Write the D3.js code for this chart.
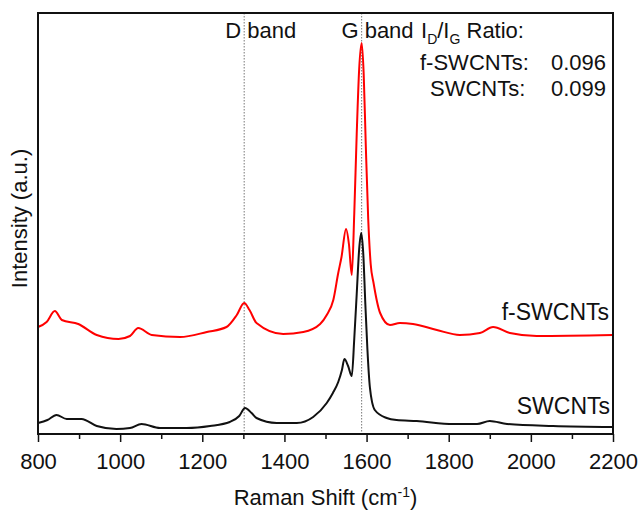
<!DOCTYPE html>
<html>
<head>
<meta charset="utf-8">
<script src="https://cdn.jsdelivr.net/npm/d3@7"></script>
<style>
  body { margin: 0; background: #fff; }
  text { font-family: "Liberation Sans", Arial, sans-serif; fill: #111; }
</style>
</head>
<body>
<div id="chart"></div>
<script>
// Raman spectra (intensity in arbitrary units)
var shiftSW = [800, 823, 845, 870, 906, 943, 991, 1024, 1052, 1097, 1162, 1219, 1267, 1290, 1304, 1320, 1332, 1381, 1430, 1470, 1503, 1518, 1531, 1540, 1546, 1555, 1564, 1570, 1576, 1582, 1587, 1592, 1597, 1602, 1608, 1620, 1649, 1673, 1722, 1811, 1869, 1900, 1942, 2054, 2200]
var intSW = [11, 14, 19, 15, 15, 8, 5, 6, 10, 6, 6, 8, 12, 18, 26, 21, 16, 11, 11, 17, 31, 41, 52, 64, 75, 68, 58, 95, 140, 185, 201, 180, 130, 85, 47, 24, 16, 14, 13, 10, 10, 13, 10, 8, 7]

var shiftF = [800, 821, 841, 858, 898, 943, 996, 1024, 1044, 1077, 1146, 1211, 1259, 1284, 1302, 1315, 1332, 1397, 1446, 1487, 1503, 1519, 1531, 1539, 1550, 1557, 1564, 1570, 1576, 1582, 1588, 1593, 1598, 1604, 1610, 1617, 1633, 1657, 1681, 1713, 1771, 1827, 1876, 1908, 1949, 2014, 2200]
var intF = [107, 112, 123, 114, 110, 99, 95, 98, 106, 99, 97, 102, 107, 119, 131, 124, 111, 100, 102, 110, 119, 134, 161, 177, 205, 190, 159, 220, 300, 365, 391, 360, 290, 215, 170, 151, 121, 109, 111, 110, 104, 99, 101, 107, 101, 98, 99]

var bandNames = ["D", "G"]
var bandPos = [1302, 1588]
var xTicks = [800, 1000, 1200, 1400, 1600, 1800, 2000, 2200]
var xMinor = [900, 1100, 1300, 1500, 1700, 1900, 2100]
var ratioNames = ["f-SWCNTs:", "SWCNTs:"]
var ratioValues = ["0.096", "0.099"]

var fs = "22px"

var margin = {top: 13, right: 27, bottom: 79, left: 38},
    width = 640 - margin.left - margin.right,
    height = 513 - margin.top - margin.bottom;

var svg = d3.select("#chart").append("svg")
  .attr("width", 640).attr("height", 513)
  .append("g")
  .attr("transform", "translate(" + margin.left + "," + margin.top + ")")

var x = d3.scaleLinear().domain([800, 2200]).range([0, width])
var y = d3.scaleLinear().domain([0, 421]).range([height, 0])

// bottom axis: major + minor ticks pointing down
svg.append("g")
  .attr("transform", "translate(0," + height + ")")
  .call(d3.axisBottom(x).tickValues(xMinor).tickSize(5).tickFormat(""))
  .call(function(g){ g.select(".domain").remove() })
  .selectAll("line").attr("stroke", "#111").attr("stroke-width", 1.5)

var xa = svg.append("g")
  .attr("transform", "translate(0," + height + ")")
  .call(d3.axisBottom(x).tickValues(xTicks).tickSize(8).tickPadding(11).tickFormat(d3.format("d")))
xa.select(".domain").remove()
xa.selectAll("line").attr("stroke", "#111").attr("stroke-width", 1.5)
xa.selectAll("text").style("font-size", fs).attr("fill", "#111")

// dotted band lines
svg.selectAll(".band-line")
  .data(bandPos)
  .join("line")
  .attr("class", "band-line")
  .attr("x1", function(d){ return x(d) }).attr("x2", function(d){ return x(d) })
  .attr("y1", 0).attr("y2", height)
  .attr("stroke", "#777").attr("stroke-width", 1)
  .attr("stroke-dasharray", "1.5,1.5")

var line = d3.line()
  .x(function(d){ return x(d[0]) })
  .y(function(d){ return y(d[1]) })
  .curve(d3.curveMonotoneX)

svg.append("path")
  .datum(d3.zip(shiftSW, intSW))
  .attr("d", line)
  .attr("fill", "none").attr("stroke", "#111").attr("stroke-width", 2)

svg.append("path")
  .datum(d3.zip(shiftF, intF))
  .attr("d", line)
  .attr("fill", "none").attr("stroke", "#f00").attr("stroke-width", 2)

// frame
svg.append("rect")
  .attr("width", width).attr("height", height)
  .attr("fill", "none").attr("stroke", "#111").attr("stroke-width", 2)

// band labels
bandNames.forEach(function(n, i){
  svg.append("text")
    .attr("x", x(bandPos[i]) - 3).attr("y", 25)
    .attr("text-anchor", "end").style("font-size", fs).text(n)
  svg.append("text")
    .attr("x", x(bandPos[i]) + 3).attr("y", 25)
    .style("font-size", fs).text("band")
})

// ratio box
var rt = svg.append("text").attr("x", 383).attr("y", 25).style("font-size", fs)
rt.append("tspan").text("I")
rt.append("tspan").attr("dy", 6).style("font-size", "14px").text("D")
rt.append("tspan").attr("dy", -6).text("/I")
rt.append("tspan").attr("dy", 6).style("font-size", "14px").text("G")
rt.append("tspan").attr("dy", -6).text(" Ratio:")

ratioNames.forEach(function(n, i){
  svg.append("text")
    .attr("x", i == 0 ? 382 : 392).attr("y", 57 + i * 26)
    .style("font-size", fs).text(n)
  svg.append("text")
    .attr("x", 568).attr("y", 57 + i * 26)
    .attr("text-anchor", "end").style("font-size", fs).text(ratioValues[i])
})

// series labels
svg.append("text").attr("x", 571).attr("y", y(105) - 9)
  .attr("text-anchor", "end").style("font-size", "23px").text("f-SWCNTs")
svg.append("text").attr("x", 572).attr("y", y(14) - 6)
  .attr("text-anchor", "end").style("font-size", "23px").text("SWCNTs")

// axis titles
var xt = svg.append("text")
  .attr("x", width / 2).attr("y", height + 71)
  .attr("text-anchor", "middle").style("font-size", fs)
xt.append("tspan").text("Raman Shift (cm")
xt.append("tspan").attr("dy", -8).style("font-size", "14px").text("-1")
xt.append("tspan").attr("dy", 8).text(")")

svg.append("text")
  .attr("transform", "translate(-11," + (height / 2 - 5) + ") rotate(-90)")
  .attr("text-anchor", "middle").style("font-size", fs)
  .text("Intensity (a.u.)")
</script>
</body>
</html>
